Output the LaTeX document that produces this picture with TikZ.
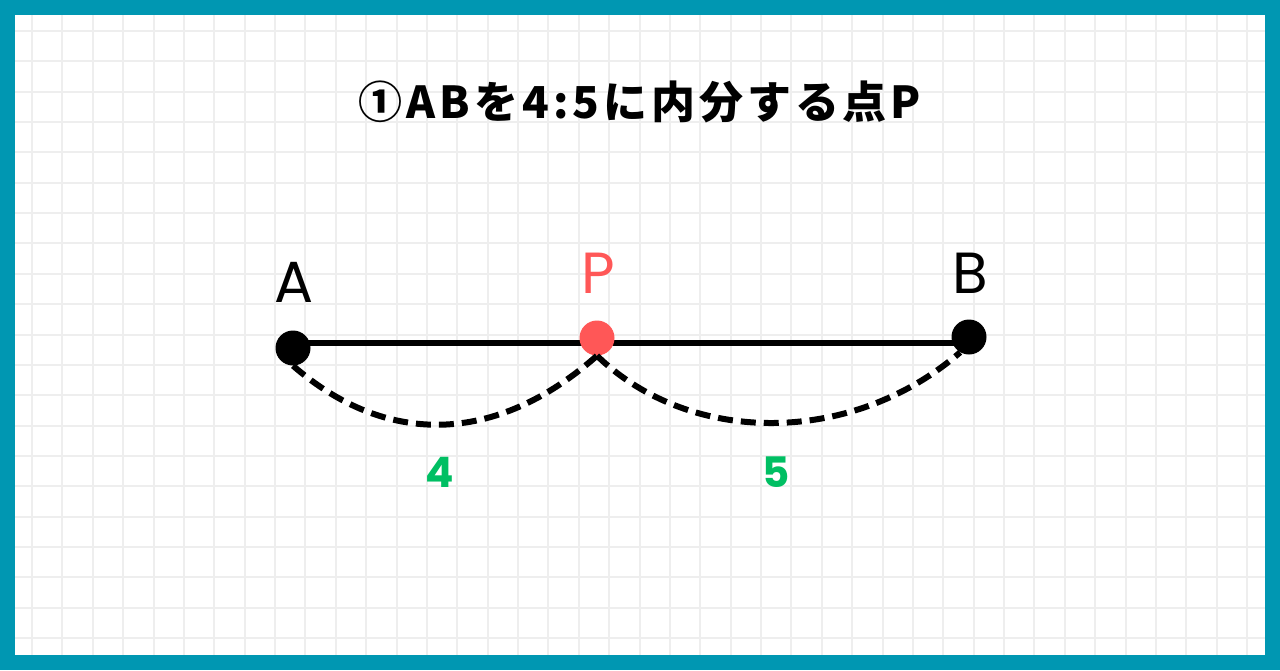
\documentclass[tikz,border=0pt]{standalone}
\usepackage{fontspec}
\newfontfamily\cjk{Noto Sans CJK JP Black}[LetterSpace=9]
\newfontfamily\pop{Poppins}
\newfontfamily\popb{Poppins}[UprightFont=* Bold]
\definecolor{frame}{HTML}{0097B2}
\definecolor{gridc}{HTML}{EEEEEE}
\definecolor{ptred}{HTML}{FF5757}
\definecolor{numgreen}{HTML}{00BF63}
\tikzset{
  dot/.style={circle,fill=#1,minimum size=35pt,inner sep=0pt},
  ptlabel/.style={font=\pop\fontsize{58}{60}\selectfont,text=#1},
  ratio/.style={font=\popb\fontsize{42}{44}\selectfont,text=numgreen},
  seg/.style={line width=6pt},
  arcdash/.style={line width=6pt,dash pattern=on 15pt off 8pt},
}
\begin{document}
\begin{tikzpicture}[x=1pt,y=-1pt]
\useasboundingbox (0,0) rectangle (1280,670);
\fill[frame] (0,0) rectangle (1280,670);
\fill[white] (15,15) rectangle (1265,655);
\begin{scope}
\clip (15,15) rectangle (1265,655);
\foreach \k in {0,...,41} {
  \draw[gridc,line width=2pt] ({1.625+30.375*\k},15) -- ({1.625+30.375*\k},655);
}
\foreach \k in {0,...,21} {
  \draw[gridc,line width=2pt] (15,{0.65+30.35*\k}) -- (1265,{0.65+30.35*\k});
}
\end{scope}
\node[font=\cjk\fontsize{44}{46}\selectfont] (title) at (640,102) {①ABを4:5に内分する点P};
\coordinate (Aend) at (293,343);
\coordinate (Bend) at (969,343);
\draw[seg] (Aend) -- (Bend);
\node[dot=black] (A) at (293,348) {};
\node[dot=ptred] (P) at (597,338) {};
\node[dot=black] (B) at (969,337) {};
\node[ptlabel=black] (lA) at (294,282) {A};
\node[ptlabel=ptred] (lP) at (598,273) {P};
\node[ptlabel=black] (lB) at (970,273) {B};
\draw[arcdash] (A.south) .. controls (385,446) and (495,446) .. (P.south);
\draw[arcdash] (P.south) .. controls (690,446) and (852,446) .. (B.240);
\node[ratio] (r4) at (440,472) {4};
\node[ratio] (r5) at (776,472) {5};
\end{tikzpicture}
\end{document}
